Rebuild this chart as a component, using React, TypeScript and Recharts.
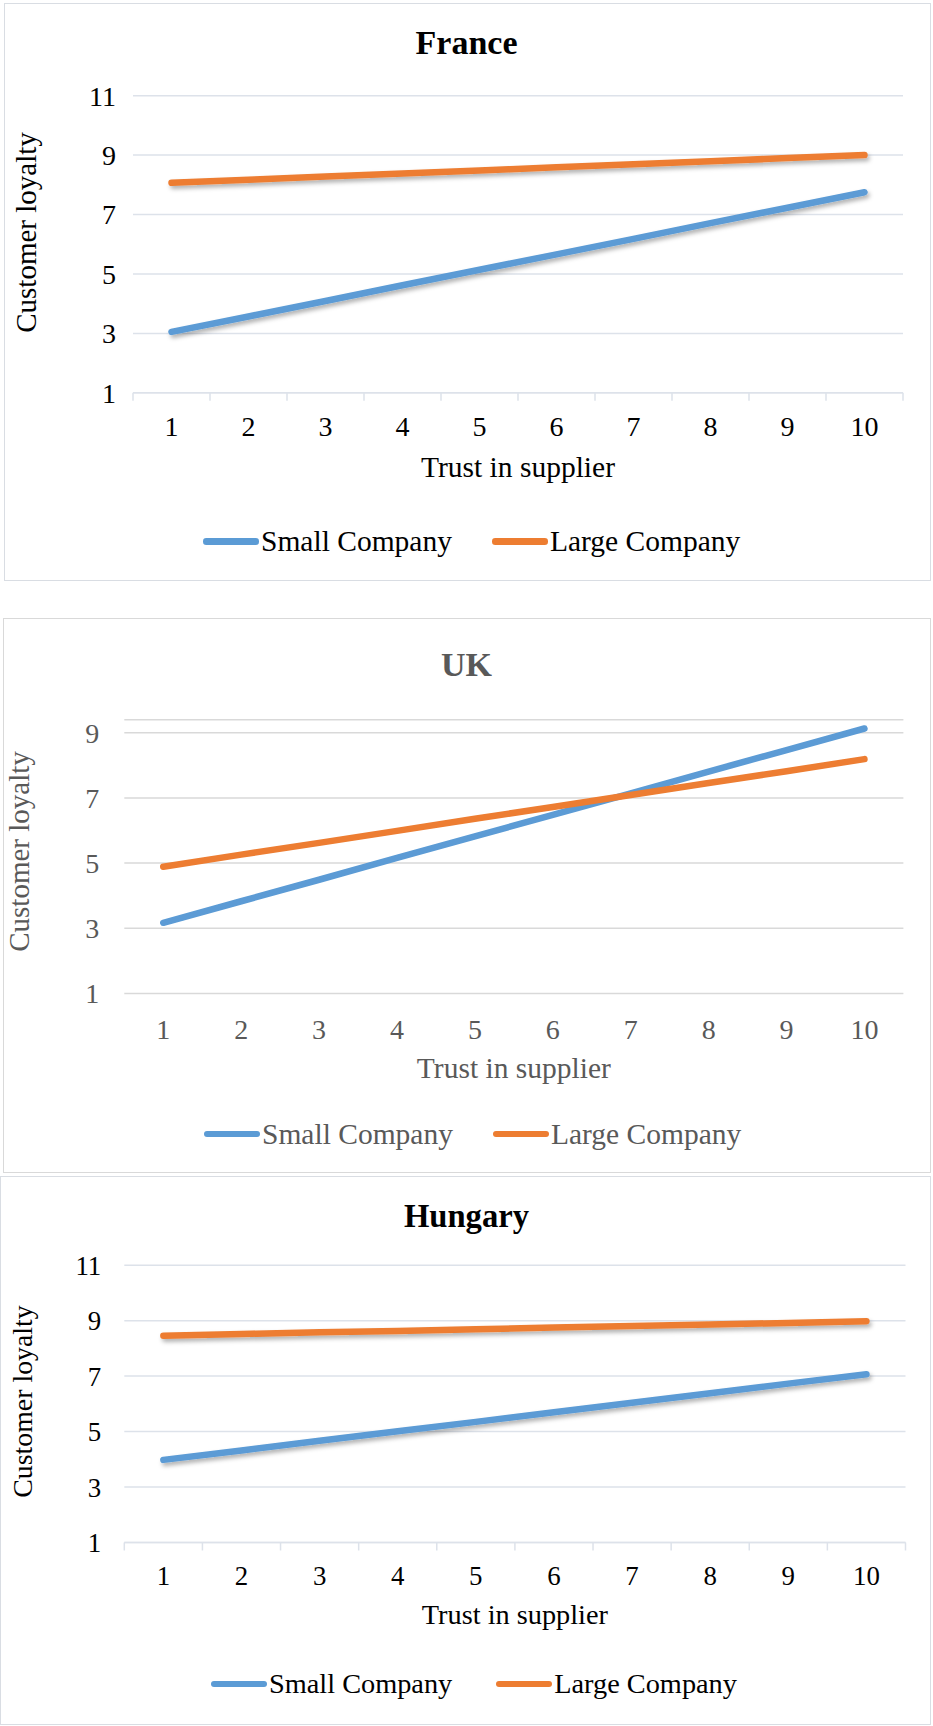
import { LineChart, Line, XAxis, YAxis, CartesianGrid } from "recharts";

const trustLevels = [1, 2, 3, 4, 5, 6, 7, 8, 9, 10];
const seriesNames = ["Small Company", "Large Company"];

const franceSmall = [3.05, 3.57, 4.09, 4.62, 5.14, 5.66, 6.18, 6.71, 7.23, 7.75];
const franceLarge = [8.07, 8.17, 8.28, 8.38, 8.48, 8.59, 8.69, 8.79, 8.9, 9.0];

const ukSmall = [3.17, 3.83, 4.49, 5.16, 5.82, 6.48, 7.14, 7.81, 8.47, 9.13];
const ukLarge = [4.89, 5.26, 5.62, 5.99, 6.36, 6.72, 7.09, 7.46, 7.82, 8.19];

const hungarySmall = [3.98, 4.32, 4.67, 5.01, 5.35, 5.7, 6.04, 6.38, 6.73, 7.07];
const hungaryLarge = [8.46, 8.52, 8.58, 8.63, 8.69, 8.75, 8.81, 8.86, 8.92, 8.98];

const ticksToEleven = [1, 3, 5, 7, 9, 11];
const ticksToNine = [1, 3, 5, 7, 9];

const BLUE = "#5B9BD5";
const ORANGE = "#ED7D31";
const FONT = "'Liberation Serif', 'Times New Roman', serif";
const W = 933;

interface PanelProps {
  id: string;
  title: string;
  small: number[];
  large: number[];
  yDomain: [number, number];
  yTicks: number[];
  box: { left: number; top: number; right: number; bottom: number };
  plot: { left: number; right: number; top: number; bottom: number };
  titleY: number;
  tickY: number;
  yTickGap: number;
  xTitleBase: number;
  yTitle: { x: number; y: number };
  legend: { left: number; y: number; gap: number };
  fs: number;
  ink: string;
  grid: string;
  border: string;
  tickMarks: boolean;
  shadow: boolean;
}

function Panel(p: PanelProps) {
  const data = trustLevels.map((t, i) => ({ trust: t, small: p.small[i], large: p.large[i] }));
  const chartTop = p.box.top;
  const chartH = p.box.bottom - p.box.top + 2;
  const yAxisW = 60;
  const xAxisH = 40;
  const halfBand = (p.plot.right - p.plot.left) / trustLevels.length / 2;
  const tickOffset = p.tickY - p.plot.bottom;
  const tickFs = 28 * p.fs;
  const axisFs = 29.5 * p.fs;

  const renderTick = (props: any) => {
    const { x, y, payload, index } = props;
    const axisY = y - tickOffset;
    return (
      <g>
        {p.tickMarks && (
          <line x1={x - halfBand} x2={x - halfBand} y1={axisY} y2={axisY + 8} stroke={p.grid} strokeWidth={1.5} />
        )}
        {p.tickMarks && index === trustLevels.length - 1 && (
          <line x1={x + halfBand} x2={x + halfBand} y1={axisY} y2={axisY + 8} stroke={p.grid} strokeWidth={1.5} />
        )}
        <text x={x} y={y} dy="0.355em" textAnchor="middle" fill={p.ink} fontSize={tickFs} fontFamily={FONT}>
          {payload.value}
        </text>
      </g>
    );
  };

  return (
    <>
      <div
        style={{
          position: "absolute",
          left: p.box.left,
          top: p.box.top,
          width: p.box.right - p.box.left,
          height: p.box.bottom - p.box.top,
          border: `1.5px solid ${p.border}`,
          boxSizing: "border-box",
        }}
      />
      <div style={{ position: "absolute", left: 0, top: chartTop, width: W, height: chartH }}>
        <LineChart
          width={W}
          height={chartH}
          data={data}
          margin={{
            left: p.plot.left - yAxisW,
            right: W - p.plot.right,
            top: p.plot.top - chartTop,
            bottom: chartH - (p.plot.bottom - chartTop) - xAxisH,
          }}
        >
          <defs>
            <filter id={`${p.id}-shadow`} filterUnits="userSpaceOnUse" x={0} y={0} width={W} height={chartH}>
              <feDropShadow dx={2} dy={3} stdDeviation={2} floodColor="#000" floodOpacity={p.shadow ? 0.3 : 0} />
            </filter>
          </defs>
          <CartesianGrid vertical={false} stroke={p.grid} strokeWidth={1.5} />
          <XAxis
            dataKey="trust"
            type="number"
            domain={[0.5, trustLevels.length + 0.5]}
            ticks={trustLevels}
            height={xAxisH}
            tickSize={0}
            tickMargin={tickOffset}
            tickLine={false}
            axisLine={p.tickMarks ? { stroke: p.grid, strokeWidth: 1.5 } : false}
            tick={renderTick}
            interval={0}
          />
          <YAxis
            type="number"
            domain={p.yDomain}
            ticks={p.yTicks}
            width={yAxisW}
            allowDataOverflow
            axisLine={false}
            tickLine={false}
            tickSize={0}
            tickMargin={p.yTickGap}
            tick={{ fill: p.ink, fontSize: tickFs, fontFamily: FONT }}
            interval={0}
          />
          <Line
            type="linear"
            dataKey="small"
            name={seriesNames[0]}
            stroke={BLUE}
            strokeWidth={6.5}
            strokeLinecap="round"
            dot={false}
            activeDot={false}
            filter={`url(#${p.id}-shadow)`}
            isAnimationActive={false}
          />
          <Line
            type="linear"
            dataKey="large"
            name={seriesNames[1]}
            stroke={ORANGE}
            strokeWidth={6.5}
            strokeLinecap="round"
            dot={false}
            activeDot={false}
            filter={`url(#${p.id}-shadow)`}
            isAnimationActive={false}
          />
        </LineChart>
      </div>
      <div
        style={{
          position: "absolute",
          left: 0,
          width: W,
          top: p.titleY - 17,
          lineHeight: "34px",
          fontSize: 34 * p.fs,
          fontWeight: "bold",
          fontFamily: FONT,
          textAlign: "center",
          color: p.ink,
        }}
      >
        {p.title}
      </div>
      <div
        style={{
          position: "absolute",
          left: p.plot.left,
          width: p.plot.right - p.plot.left,
          top: p.xTitleBase - 24,
          lineHeight: "29px",
          fontSize: axisFs,
          fontFamily: FONT,
          textAlign: "center",
          color: p.ink,
        }}
      >
        Trust in supplier
      </div>
      <div
        style={{
          position: "absolute",
          left: p.yTitle.x - 150,
          width: 300,
          top: p.yTitle.y - 15,
          lineHeight: "29px",
          fontSize: 29 * p.fs,
          fontFamily: FONT,
          textAlign: "center",
          color: p.ink,
          transform: "rotate(-90deg)",
          transformOrigin: "center",
        }}
      >
        Customer loyalty
      </div>
      <div
        style={{
          position: "absolute",
          left: p.legend.left,
          top: p.legend.y - 17,
          height: 34,
          display: "flex",
          alignItems: "center",
          fontSize: axisFs,
          fontFamily: FONT,
          color: p.ink,
          whiteSpace: "nowrap",
        }}
      >
        {seriesNames.map((name, i) => (
          <div key={name} style={{ display: "flex", alignItems: "center", marginRight: i === 0 ? p.legend.gap : 0 }}>
            <span
              style={{
                display: "inline-block",
                width: 56,
                height: 6.5,
                borderRadius: 3.25,
                background: i === 0 ? BLUE : ORANGE,
                marginRight: 2,
              }}
            />
            <span>{name}</span>
          </div>
        ))}
      </div>
    </>
  );
}

export default function App() {
  return (
    <div style={{ position: "absolute", left: 0, top: 0, width: W, height: 1726, background: "#fff" }}>
      <Panel
        id="fr"
        title="France"
        small={franceSmall}
        large={franceLarge}
        yDomain={[1, 11]}
        yTicks={ticksToEleven}
        box={{ left: 4, top: 3, right: 931, bottom: 581 }}
        plot={{ left: 133, right: 903, top: 95.7, bottom: 392.8 }}
        titleY={43}
        tickY={426}
        yTickGap={17}
        xTitleBase={477}
        yTitle={{ x: 26, y: 233 }}
        legend={{ left: 203, y: 541.5, gap: 40 }}
        fs={1}
        ink="#000"
        grid="#dde2ea"
        border="#d9dde3"
        tickMarks
        shadow
      />
      <Panel
        id="uk"
        title="UK"
        small={ukSmall}
        large={ukLarge}
        yDomain={[1, 9.4]}
        yTicks={ticksToNine}
        box={{ left: 3, top: 618, right: 931, bottom: 1173 }}
        plot={{ left: 124.3, right: 903.4, top: 719.7, bottom: 993.5 }}
        titleY={664.5}
        tickY={1028.7}
        yTickGap={25}
        xTitleBase={1078.4}
        yTitle={{ x: 19, y: 852 }}
        legend={{ left: 204, y: 1134, gap: 40 }}
        fs={1}
        ink="#595959"
        grid="#d9d9d9"
        border="#d9d9d9"
        tickMarks={false}
        shadow={false}
      />
      <Panel
        id="hu"
        title="Hungary"
        small={hungarySmall}
        large={hungaryLarge}
        yDomain={[1, 11]}
        yTicks={ticksToEleven}
        box={{ left: 0, top: 1176, right: 931, bottom: 1725 }}
        plot={{ left: 124.3, right: 905.5, top: 1265.2, bottom: 1542.5 }}
        titleY={1215.7}
        tickY={1575.5}
        yTickGap={23}
        xTitleBase={1624.4}
        yTitle={{ x: 22, y: 1402 }}
        legend={{ left: 211, y: 1684, gap: 44 }}
        fs={0.96}
        ink="#000"
        grid="#dde2ea"
        border="#d9dde3"
        tickMarks
        shadow
      />
    </div>
  );
}
